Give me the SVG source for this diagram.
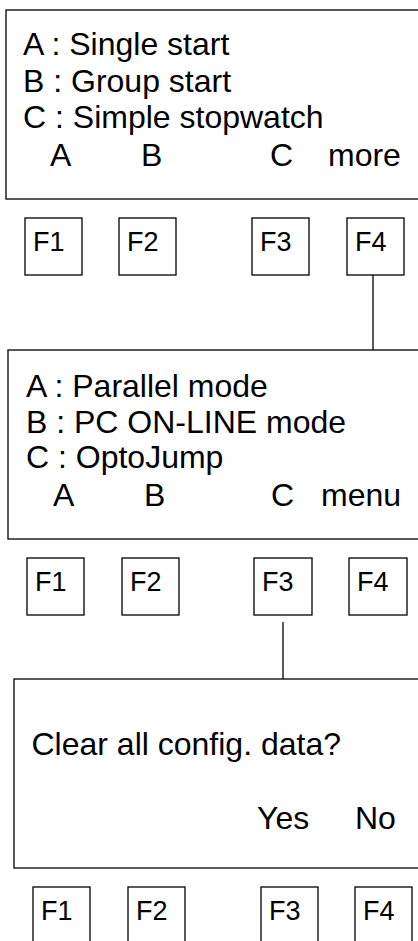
<svg xmlns="http://www.w3.org/2000/svg" width="418" height="941" viewBox="0 0 418 941">
<style>
rect{fill:#fff;stroke:#000;stroke-width:1.3}
text{font-family:"Liberation Sans",Arial,sans-serif;fill:#000}
.t{font-size:32px}
.k{font-size:27px}
line{stroke:#000;stroke-width:1.3}
</style>
<rect x="0" y="0" width="418" height="941" style="stroke:none"/>
<g id="connectors">
<line x1="373" y1="275" x2="373" y2="350"/>
<line x1="283" y1="622" x2="283" y2="679"/>
</g>
<g id="screen1">
<rect x="6" y="10" width="420" height="189"/>
<text class="t" x="23" y="55">A : Single start</text>
<text class="t" x="23" y="92">B : Group start</text>
<text class="t" x="23" y="128">C : Simple stopwatch</text>
<text class="t" x="50" y="166">A</text>
<text class="t" x="141" y="166">B</text>
<text class="t" x="270" y="166">C</text>
<text class="t" x="328" y="166">more</text>
</g>
<g id="keys1">
<rect x="25" y="218" width="57" height="57"/><text class="k" x="33" y="251">F1</text>
<rect x="119" y="218" width="57" height="57"/><text class="k" x="127" y="251">F2</text>
<rect x="252" y="218" width="57" height="57"/><text class="k" x="260" y="251">F3</text>
<rect x="347" y="218" width="57" height="57"/><text class="k" x="355" y="251">F4</text>
</g>
<g id="screen2">
<rect x="8" y="350" width="420" height="189"/>
<text class="t" x="26" y="397">A : Parallel mode</text>
<text class="t" x="26" y="433">B : PC ON-LINE mode</text>
<text class="t" x="26" y="468">C : OptoJump</text>
<text class="t" x="53" y="506">A</text>
<text class="t" x="144" y="506">B</text>
<text class="t" x="271" y="506">C</text>
<text class="t" x="321" y="506">menu</text>
</g>
<g id="keys2">
<rect x="27" y="558" width="57" height="57"/><text class="k" x="35" y="591">F1</text>
<rect x="122" y="558" width="57" height="57"/><text class="k" x="130" y="591">F2</text>
<rect x="254" y="558" width="58" height="57"/><text class="k" x="262" y="591">F3</text>
<rect x="349" y="558" width="58" height="57"/><text class="k" x="357" y="591">F4</text>
</g>
<g id="screen3">
<rect x="14" y="679" width="420" height="189"/>
<text class="t" x="31.5" y="755">Clear all config. data?</text>
<text class="t" x="257" y="829">Yes</text>
<text class="t" x="355" y="829">No</text>
</g>
<g id="keys3">
<rect x="33" y="887" width="57" height="60"/><text class="k" x="41" y="920">F1</text>
<rect x="128" y="887" width="57" height="60"/><text class="k" x="136" y="920">F2</text>
<rect x="261" y="887" width="57" height="60"/><text class="k" x="269" y="920">F3</text>
<rect x="355" y="887" width="57" height="60"/><text class="k" x="363" y="920">F4</text>
</g>
</svg>
